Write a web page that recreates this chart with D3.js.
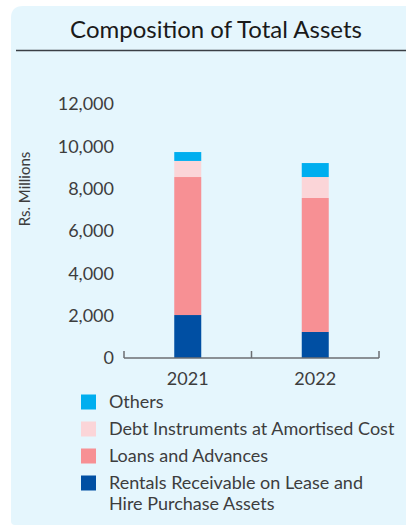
<!DOCTYPE html>
<html>
<head>
<meta charset="utf-8">
<script src="https://cdn.jsdelivr.net/npm/d3@7"></script>
<style>
  html, body { margin: 0; padding: 0; background: #ffffff; }
  svg { display: block; font-family: Lato, "Open Sans", sans-serif; }
</style>
</head>
<body>
<svg id="chart" width="406" height="526"></svg>
<script>
// Composition of Total Assets (Rs. Millions)
const years = ["2021", "2022"];
const seriesNames = [
  "Rentals Receivable on Lease and Hire Purchase Assets",
  "Loans and Advances",
  "Debt Instruments at Amortised Cost",
  "Others"
];
const rentals = [2030, 1230];
const loans = [6520, 6330];
const debt = [760, 990];
const others = [420, 660];
const yTicks = [0, 2000, 4000, 6000, 8000, 10000, 12000];
const colors = ["#004fa3", "#f79094", "#fbd5d8", "#00aeef"];

const svg = d3.select("#chart");

// Panel background with rounded left corners
const px = 11, py = 6, pw = 406 - 11 + 10, ph = 525 - 6;
svg.append("path")
  .attr("d", `M${px + 12},${py} H${px + pw} V${py + ph} H${px + 4} Q${px},${py + ph} ${px},${py + ph - 4} V${py + 12} Q${px},${py} ${px + 12},${py} Z`)
  .attr("fill", "#e5f6fd");

// Title and rule
svg.append("text")
  .attr("x", 216).attr("y", 38)
  .attr("text-anchor", "middle")
  .attr("font-size", 24)
  .attr("fill", "#1a1a1a")
  .text("Composition of Total Assets");
svg.append("line")
  .attr("x1", 16).attr("x2", 406)
  .attr("y1", 50.5).attr("y2", 50.5)
  .attr("stroke", "#3a3f45").attr("stroke-width", 1.5);

// Scales
const x = d3.scaleBand().domain(years).range([124, 379]).paddingInner(0).paddingOuter(0);
const y = d3.scaleLinear().domain([0, 12000]).range([358, 104]);
const barW = 27;

// Stack data
const table = years.map((yr, i) => ({
  year: yr,
  [seriesNames[0]]: rentals[i],
  [seriesNames[1]]: loans[i],
  [seriesNames[2]]: debt[i],
  [seriesNames[3]]: others[i]
}));
const stacked = d3.stack().keys(seriesNames)(table);

svg.append("g").selectAll("g")
  .data(stacked)
  .join("g")
  .attr("fill", (d, i) => colors[i])
  .selectAll("rect")
  .data(d => d)
  .join("rect")
  .attr("x", d => x(d.data.year) + x.bandwidth() / 2 - barW / 2)
  .attr("width", barW)
  .attr("y", d => y(d[1]))
  .attr("height", d => y(d[0]) - y(d[1]));

// Y tick labels
svg.append("g").selectAll("text")
  .data(yTicks)
  .join("text")
  .attr("x", 114)
  .attr("y", d => y(d))
  .attr("dy", "0.35em")
  .attr("text-anchor", "end")
  .attr("font-size", 18)
  .attr("fill", "#3d3d3d")
  .text(d => d3.format(",")(d));

// Y axis title
svg.append("text")
  .attr("transform", "translate(30,189) rotate(-90)")
  .attr("text-anchor", "middle")
  .attr("font-size", 15)
  .attr("fill", "#3d3d3d")
  .text("Rs. Millions");

// X axis baseline with upward ticks between categories
const axisColor = "#6b6e72";
svg.append("line")
  .attr("x1", 124).attr("x2", 379)
  .attr("y1", 358).attr("y2", 358)
  .attr("stroke", axisColor).attr("stroke-width", 1.5);
const tickXs = [x(years[0]), x(years[1]), x(years[1]) + x.bandwidth()];
svg.append("g").selectAll("line")
  .data(tickXs)
  .join("line")
  .attr("x1", d => d).attr("x2", d => d)
  .attr("y1", 358).attr("y2", 351)
  .attr("stroke", axisColor).attr("stroke-width", 1.5);

// X labels
svg.append("g").selectAll("text")
  .data(years)
  .join("text")
  .attr("x", d => x(d) + x.bandwidth() / 2)
  .attr("y", 385)
  .attr("text-anchor", "middle")
  .attr("font-size", 18)
  .attr("fill", "#3d3d3d")
  .text(d => d);

// Legend
const legendItems = [
  { color: colors[3], lines: ["Others"] },
  { color: colors[2], lines: ["Debt Instruments at Amortised Cost"] },
  { color: colors[1], lines: ["Loans and Advances"] },
  { color: colors[0], lines: ["Rentals Receivable on Lease and", "Hire Purchase Assets"] }
];
const legend = svg.append("g");
legendItems.forEach((item, i) => {
  const cy = 402 + i * 27;
  legend.append("rect")
    .attr("x", 81).attr("y", cy - 7.5)
    .attr("width", 15).attr("height", 15)
    .attr("fill", item.color);
  item.lines.forEach((ln, j) => {
    legend.append("text")
      .attr("x", 109)
      .attr("y", cy + j * 21)
      .attr("dy", "0.35em")
      .attr("font-size", 18)
      .attr("fill", "#3d3d3d")
      .text(ln);
  });
});
</script>
</body>
</html>
